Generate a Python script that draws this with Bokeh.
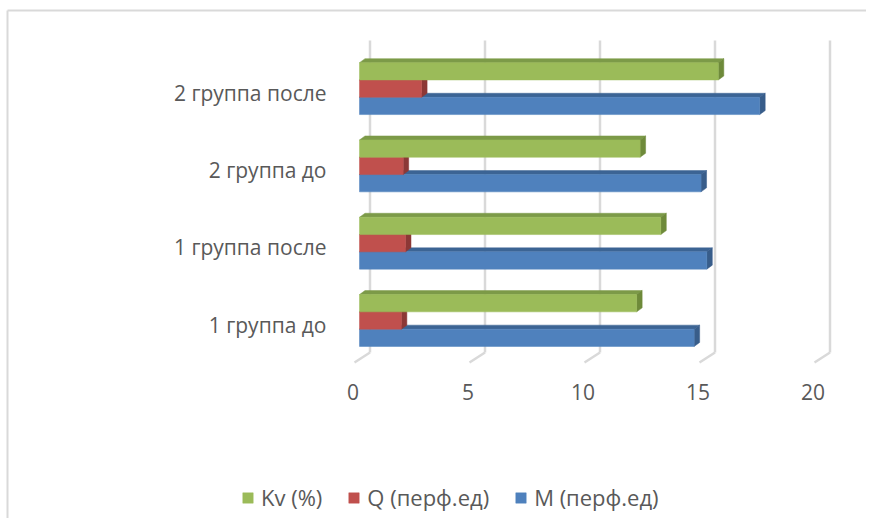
from bokeh.plotting import figure
from bokeh.models import Range1d, Legend, LegendItem
from bokeh.core.properties import value
from bokeh.embed import file_html
from bokeh.resources import INLINE

# ---- data ----
categories = ["1 группа до", "1 группа после", "2 группа до", "2 группа после"]
m_values = [14.55, 15.1, 14.85, 17.4]    # M (перф.ед)
q_values = [1.82, 2.0, 1.9, 2.7]         # Q (перф.ед)
kv_values = [12.05, 13.1, 12.2, 15.6]    # Kv (%)
series_names = ["Kv (%)", "Q (перф.ед)", "M (перф.ед)"]
x_ticks = [0, 5, 10, 15, 20]
x_tick_labels = ["0", "5", "10", "15", "20"]

# ---- geometry (picture px) ----
W, H = 866, 518
PPX, PPY = 23.0, 77.3                        # px per data unit
ZERO_X = 359                                 # bar-plane x=0
CAT0_Y = 320                                 # bar-plane centre of category 0
BAR_H = 17.3 / PPY
DX, DY = 5.5 / PPX, 4 / PPY                  # bar depth
FONT = "Open Sans"
TXT = "#595959"
GRID = "#D9D9D9"

x_start = -ZERO_X / PPX
x_end = x_start + W / PPX
y_start = -(H - CAT0_Y) / PPY
y_end = y_start + H / PPY


def px_x(px):
    return x_start + px / PPX


def px_y(py):
    return y_start + (H - py) / PPY


p = figure(width=W, height=H, output_backend="svg", toolbar_location=None,
           x_range=Range1d(x_start, x_end), y_range=Range1d(y_start, y_end),
           x_axis_location=None, y_axis_location=None,
           min_border=0, min_border_left=0, min_border_right=0,
           min_border_top=0, min_border_bottom=0)
p.outline_line_color = None
p.grid.visible = False

# ---- chart border (top + left visible) ----
p.segment(x0=[px_x(7), px_x(7)], y0=[px_y(10), px_y(10)],
          x1=[px_x(7), px_x(W + 10)], y1=[px_y(H + 10), px_y(10)],
          line_color=GRID, line_width=2)

# ---- back wall gridlines and floor ----
back_dx = 10.5 / PPX
front_dx = -5 / PPX
gx = [t + back_dx for t in x_ticks]
p.segment(x0=gx, y0=[px_y(352)] * len(gx), x1=gx, y1=[px_y(40)] * len(gx),
          line_color=GRID, line_width=2.5)
p.segment(x0=gx, y0=[px_y(352)] * len(gx),
          x1=[t + front_dx for t in x_ticks], y1=[px_y(362)] * len(gx),
          line_color=GRID, line_width=2.5)

# ---- 3D bars ----
series = [
    # values, offset, front, top, side
    (m_values, -BAR_H, "#4F81BD", "#3C6494", "#385D8A"),
    (q_values, 0.0, "#C0504D", "#9A3E3C", "#8C3836"),
    (kv_values, BAR_H, "#9BBB59", "#7C9A48", "#6E8A3A"),
]
front_renderers = []
for vals, off, cf, ct, cs in series:
    tops = [i + off + BAR_H / 2 for i in range(len(categories))]
    bots = [i + off - BAR_H / 2 for i in range(len(categories))]
    top_xs = [[0, v, v + DX, DX] for v in vals]
    top_ys = [[t, t, t + DY, t + DY] for t in tops]
    side_xs = [[v, v + DX, v + DX, v] for v in vals]
    side_ys = [[t, t + DY, b + DY, b] for t, b in zip(tops, bots)]
    p.patches(top_xs, top_ys, fill_color=ct, line_color=ct, line_width=0.5)
    p.patches(side_xs, side_ys, fill_color=cs, line_color=cs, line_width=0.5)
    r = p.quad(left=[0] * len(vals), right=vals, bottom=bots, top=tops,
               fill_color=cf, line_color=cf, line_width=0.5)
    front_renderers.append(r)

# ---- category labels (front plane) ----
p.text(x=[px_x(326)] * len(categories),
       y=[i - 4 / PPY for i in range(len(categories))],
       text=categories, text_align="right", text_baseline="middle",
       text_font=value(FONT), text_font_size="21px", text_color=TXT)

# ---- value tick labels (front plane) ----
p.text(x=[t - 6.5 / PPX for t in x_ticks], y=[px_y(391)] * len(x_ticks),
       text=x_tick_labels, text_align="center", text_baseline="middle",
       text_font=value(FONT), text_font_size="21px", text_color=TXT)

# ---- legend ----
legend = Legend(items=[LegendItem(label=series_names[0], renderers=[front_renderers[2]]),
                       LegendItem(label=series_names[1], renderers=[front_renderers[1]]),
                       LegendItem(label=series_names[2], renderers=[front_renderers[0]])],
                orientation="horizontal", location=(241, H - 512),
                glyph_width=13, glyph_height=13, label_standoff=7, spacing=25,
                padding=0, margin=0, border_line_color=None, background_fill_alpha=0,
                label_text_font=FONT, label_text_font_size="22px", label_text_color=TXT,
                label_height=24)
p.add_layout(legend, "center")

open("out.html", "w").write(file_html(p, INLINE))
